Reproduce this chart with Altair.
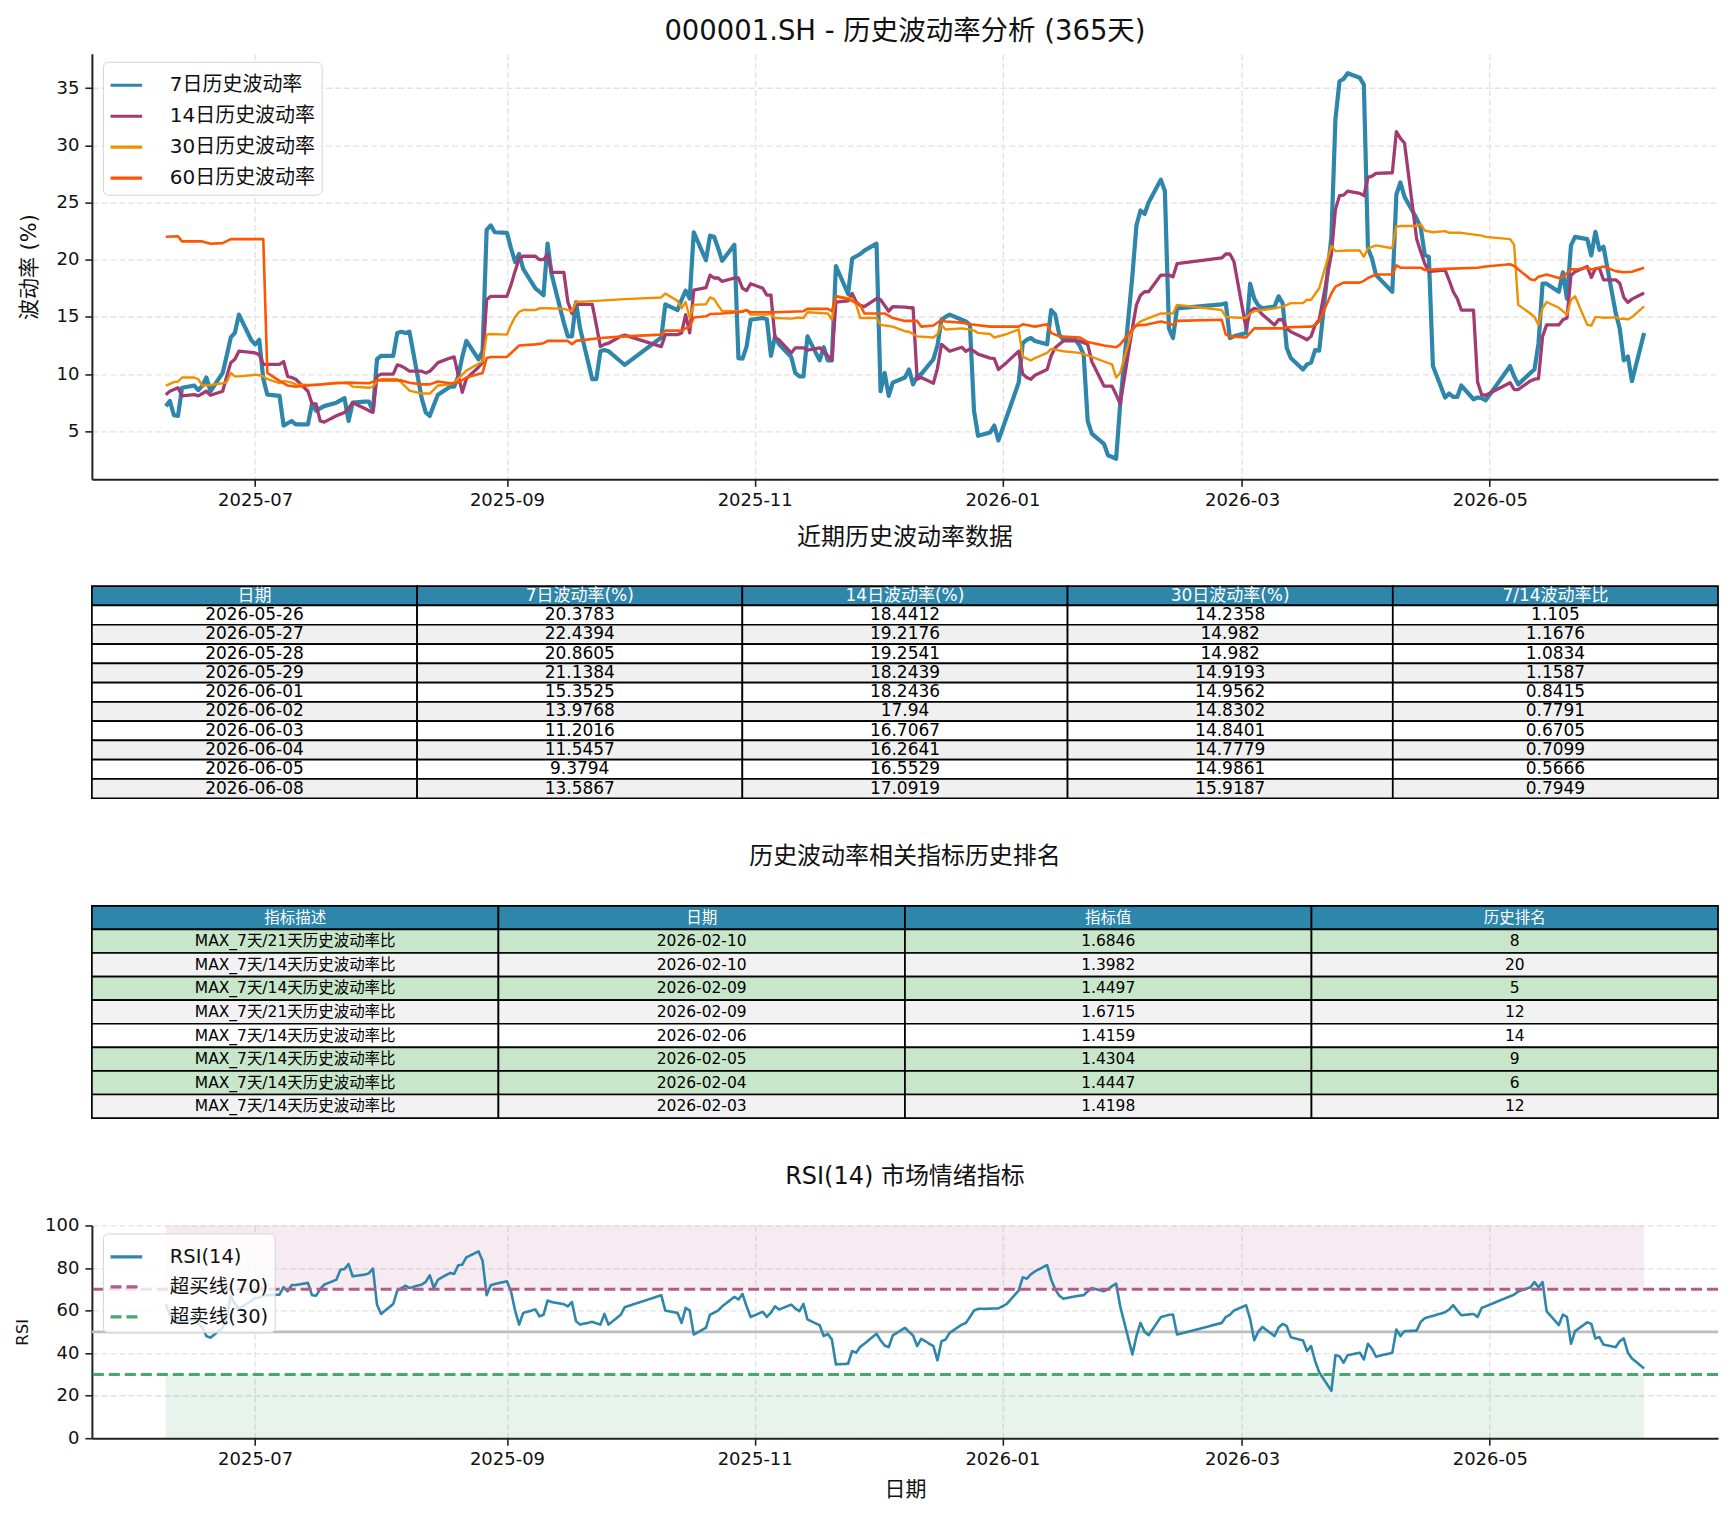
import altair as alt
import pandas as pd

FONT = "DejaVu Sans, Noto Sans CJK SC, sans-serif"
PANEL_W = 1628

# ---------------------------------------------------------------------------
# Historical volatility (%), keyed by trading date
# ---------------------------------------------------------------------------
VOL_7D = [
    ("2025-06-09", 7.2), ("2025-06-10", 7.65), ("2025-06-11", 6.4), ("2025-06-12", 6.35),
    ("2025-06-13", 8.8), ("2025-06-16", 9.0), ("2025-06-17", 8.6), ("2025-06-18", 9.0),
    ("2025-06-19", 9.7), ("2025-06-20", 8.5), ("2025-06-23", 10.1), ("2025-06-24", 11.6),
    ("2025-06-25", 13.2), ("2025-06-26", 13.6), ("2025-06-27", 15.2), ("2025-06-30", 13.0),
    ("2025-07-01", 12.6), ("2025-07-02", 13.0), ("2025-07-03", 9.6), ("2025-07-04", 8.2),
    ("2025-07-07", 8.1), ("2025-07-08", 5.5), ("2025-07-09", 5.7), ("2025-07-10", 5.9),
    ("2025-07-11", 5.6), ("2025-07-14", 5.6), ("2025-07-15", 7.4), ("2025-07-16", 6.8),
    ("2025-07-17", 7.0), ("2025-07-18", 7.2), ("2025-07-21", 7.5), ("2025-07-22", 7.7),
    ("2025-07-23", 7.9), ("2025-07-24", 5.9), ("2025-07-25", 7.5), ("2025-07-28", 7.6),
    ("2025-07-29", 7.6), ("2025-07-30", 6.8), ("2025-07-31", 11.3), ("2025-08-01", 11.6),
    ("2025-08-04", 11.6), ("2025-08-05", 13.6), ("2025-08-06", 13.7), ("2025-08-07", 13.6),
    ("2025-08-08", 13.7), ("2025-08-11", 7.9), ("2025-08-12", 6.65), ("2025-08-13", 6.35),
    ("2025-08-14", 7.3), ("2025-08-15", 8.2), ("2025-08-18", 8.9), ("2025-08-19", 8.9),
    ("2025-08-20", 9.8), ("2025-08-21", 11.5), ("2025-08-22", 12.9), ("2025-08-25", 11.3),
    ("2025-08-26", 12.0), ("2025-08-27", 22.6), ("2025-08-28", 23.0), ("2025-08-29", 22.4),
    ("2025-09-01", 22.35), ("2025-09-02", 21.0), ("2025-09-03", 19.8), ("2025-09-04", 20.5),
    ("2025-09-05", 19.2), ("2025-09-08", 17.5), ("2025-09-09", 17.2), ("2025-09-10", 16.9),
    ("2025-09-11", 21.4), ("2025-09-12", 18.7), ("2025-09-15", 14.5), ("2025-09-16", 13.3),
    ("2025-09-17", 13.3), ("2025-09-18", 16.3), ("2025-09-19", 14.0), ("2025-09-22", 9.55),
    ("2025-09-23", 9.55), ("2025-09-24", 12.0), ("2025-09-25", 12.1), ("2025-09-26", 12.0),
    ("2025-09-29", 11.1), ("2025-09-30", 10.8), ("2025-10-09", 13.2), ("2025-10-10", 16.1),
    ("2025-10-13", 15.6), ("2025-10-14", 16.5), ("2025-10-15", 17.3), ("2025-10-16", 16.6),
    ("2025-10-17", 22.4), ("2025-10-20", 19.95), ("2025-10-21", 22.1), ("2025-10-22", 22.0),
    ("2025-10-23", 21.0), ("2025-10-24", 19.9), ("2025-10-27", 21.3), ("2025-10-28", 11.4),
    ("2025-10-29", 11.35), ("2025-10-30", 12.4), ("2025-10-31", 14.75), ("2025-11-03", 14.9),
    ("2025-11-04", 14.8), ("2025-11-05", 11.6), ("2025-11-06", 13.3), ("2025-11-07", 12.6),
    ("2025-11-10", 11.5), ("2025-11-11", 10.1), ("2025-11-12", 9.8), ("2025-11-13", 9.8),
    ("2025-11-14", 13.3), ("2025-11-17", 11.2), ("2025-11-18", 12.35), ("2025-11-19", 11.2),
    ("2025-11-20", 11.2), ("2025-11-21", 19.45), ("2025-11-24", 17.0), ("2025-11-25", 20.1),
    ("2025-11-26", 20.3), ("2025-11-27", 20.5), ("2025-11-28", 20.8), ("2025-12-01", 21.4),
    ("2025-12-02", 8.5), ("2025-12-03", 10.1), ("2025-12-04", 8.1), ("2025-12-05", 9.25),
    ("2025-12-08", 9.7), ("2025-12-09", 10.4), ("2025-12-10", 9.1), ("2025-12-11", 9.8),
    ("2025-12-12", 10.0), ("2025-12-15", 11.3), ("2025-12-16", 12.5), ("2025-12-17", 14.75),
    ("2025-12-18", 15.0), ("2025-12-19", 15.2), ("2025-12-22", 14.75), ("2025-12-23", 14.6),
    ("2025-12-24", 14.3), ("2025-12-25", 6.8), ("2025-12-26", 4.6), ("2025-12-29", 4.9),
    ("2025-12-30", 5.5), ("2025-12-31", 4.2), ("2026-01-02", 6.2), ("2026-01-05", 9.25),
    ("2026-01-06", 12.7), ("2026-01-07", 13.0), ("2026-01-08", 13.15), ("2026-01-09", 12.9),
    ("2026-01-12", 12.6), ("2026-01-13", 15.6), ("2026-01-14", 15.2), ("2026-01-15", 13.45),
    ("2026-01-16", 13.0), ("2026-01-19", 13.0), ("2026-01-20", 12.5), ("2026-01-21", 11.7),
    ("2026-01-22", 5.9), ("2026-01-23", 4.8), ("2026-01-26", 3.9), ("2026-01-27", 2.9),
    ("2026-01-28", 2.75), ("2026-01-29", 2.6), ("2026-01-30", 7.4), ("2026-02-02", 18.6),
    ("2026-02-03", 23.0), ("2026-02-04", 24.3), ("2026-02-05", 24.0), ("2026-02-06", 25.0),
    ("2026-02-09", 27.0), ("2026-02-10", 26.0), ("2026-02-11", 14.0), ("2026-02-12", 13.15),
    ("2026-02-13", 15.75), ("2026-02-24", 16.1), ("2026-02-25", 16.2), ("2026-02-26", 13.15),
    ("2026-02-27", 13.3), ("2026-03-02", 13.6), ("2026-03-03", 17.9), ("2026-03-04", 16.6),
    ("2026-03-05", 16.0), ("2026-03-06", 15.75), ("2026-03-09", 15.9), ("2026-03-10", 16.8),
    ("2026-03-11", 16.2), ("2026-03-12", 12.3), ("2026-03-13", 11.4), ("2026-03-16", 10.4),
    ("2026-03-17", 10.85), ("2026-03-18", 11.0), ("2026-03-19", 12.1), ("2026-03-20", 12.05),
    ("2026-03-23", 22.0), ("2026-03-24", 32.3), ("2026-03-25", 35.6), ("2026-03-26", 35.8),
    ("2026-03-27", 36.3), ("2026-03-30", 35.9), ("2026-03-31", 35.3), ("2026-04-01", 21.0),
    ("2026-04-02", 20.1), ("2026-04-03", 18.65), ("2026-04-07", 17.2), ("2026-04-08", 25.7),
    ("2026-04-09", 26.75), ("2026-04-10", 25.5), ("2026-04-13", 23.6), ("2026-04-14", 22.8),
    ("2026-04-15", 20.4), ("2026-04-16", 20.25), ("2026-04-17", 10.7), ("2026-04-20", 7.95),
    ("2026-04-21", 8.3), ("2026-04-22", 8.0), ("2026-04-23", 8.0), ("2026-04-24", 9.0),
    ("2026-04-27", 7.8), ("2026-04-28", 7.95), ("2026-04-29", 7.9), ("2026-04-30", 7.7),
    ("2026-05-06", 10.7), ("2026-05-07", 9.8), ("2026-05-08", 9.1), ("2026-05-11", 10.1),
    ("2026-05-12", 10.4), ("2026-05-13", 12.7), ("2026-05-14", 17.9), ("2026-05-15", 17.9),
    ("2026-05-18", 17.2), ("2026-05-19", 18.9), ("2026-05-20", 16.6), ("2026-05-21", 21.25),
    ("2026-05-22", 22.0), ("2026-05-25", 21.8), ("2026-05-26", 20.3783), ("2026-05-27", 22.4394),
    ("2026-05-28", 20.8605), ("2026-05-29", 21.1384), ("2026-06-01", 15.3525), ("2026-06-02", 13.9768),
    ("2026-06-03", 11.2016), ("2026-06-04", 11.5457), ("2026-06-05", 9.3794), ("2026-06-08", 13.5867),
]

VOL_14D = [
    ("2025-06-09", 8.2), ("2025-06-10", 8.5), ("2025-06-11", 8.65), ("2025-06-12", 8.8),
    ("2025-06-13", 8.1), ("2025-06-16", 8.2), ("2025-06-17", 8.1), ("2025-06-18", 8.3),
    ("2025-06-19", 8.5), ("2025-06-20", 8.15), ("2025-06-23", 8.5), ("2025-06-24", 9.8),
    ("2025-06-25", 11.0), ("2025-06-26", 11.3), ("2025-06-27", 12.0), ("2025-06-30", 11.9),
    ("2025-07-01", 11.85), ("2025-07-02", 11.7), ("2025-07-03", 10.85), ("2025-07-04", 10.85),
    ("2025-07-07", 10.85), ("2025-07-08", 11.1), ("2025-07-09", 9.8), ("2025-07-10", 9.7),
    ("2025-07-11", 9.55), ("2025-07-14", 8.5), ("2025-07-15", 7.4), ("2025-07-16", 7.4),
    ("2025-07-17", 5.9), ("2025-07-18", 5.8), ("2025-07-21", 6.35), ("2025-07-22", 6.5),
    ("2025-07-23", 6.65), ("2025-07-24", 7.0), ("2025-07-25", 7.5), ("2025-07-28", 7.0),
    ("2025-07-29", 6.8), ("2025-07-30", 6.65), ("2025-07-31", 9.8), ("2025-08-01", 10.0),
    ("2025-08-04", 10.0), ("2025-08-05", 10.8), ("2025-08-06", 10.7), ("2025-08-07", 10.5),
    ("2025-08-08", 10.25), ("2025-08-11", 10.25), ("2025-08-12", 10.1), ("2025-08-13", 10.25),
    ("2025-08-14", 10.6), ("2025-08-15", 11.0), ("2025-08-18", 11.4), ("2025-08-19", 11.5),
    ("2025-08-20", 9.9), ("2025-08-21", 8.4), ("2025-08-22", 9.6), ("2025-08-25", 10.6),
    ("2025-08-26", 11.0), ("2025-08-27", 16.5), ("2025-08-28", 16.8), ("2025-08-29", 16.8),
    ("2025-09-01", 16.8), ("2025-09-02", 17.8), ("2025-09-03", 19.0), ("2025-09-04", 20.1),
    ("2025-09-05", 20.3), ("2025-09-08", 20.3), ("2025-09-09", 20.0), ("2025-09-10", 20.0),
    ("2025-09-11", 20.45), ("2025-09-12", 18.9), ("2025-09-15", 18.9), ("2025-09-16", 16.3),
    ("2025-09-17", 15.3), ("2025-09-18", 16.2), ("2025-09-19", 16.1), ("2025-09-22", 16.1),
    ("2025-09-23", 14.3), ("2025-09-24", 12.4), ("2025-09-25", 12.6), ("2025-09-26", 12.7),
    ("2025-09-29", 13.3), ("2025-09-30", 13.4), ("2025-10-09", 12.4), ("2025-10-10", 13.45),
    ("2025-10-13", 13.45), ("2025-10-14", 13.6), ("2025-10-15", 15.2), ("2025-10-16", 13.6),
    ("2025-10-17", 17.35), ("2025-10-20", 17.55), ("2025-10-21", 18.65), ("2025-10-22", 18.4),
    ("2025-10-23", 18.4), ("2025-10-24", 18.1), ("2025-10-27", 18.4), ("2025-10-28", 18.4),
    ("2025-10-29", 17.5), ("2025-10-30", 17.3), ("2025-10-31", 17.9), ("2025-11-03", 17.5),
    ("2025-11-04", 16.9), ("2025-11-05", 16.9), ("2025-11-06", 13.15), ("2025-11-07", 13.0),
    ("2025-11-10", 11.85), ("2025-11-11", 12.3), ("2025-11-12", 12.3), ("2025-11-13", 12.3),
    ("2025-11-14", 12.1), ("2025-11-17", 12.3), ("2025-11-18", 12.0), ("2025-11-19", 11.6),
    ("2025-11-20", 11.2), ("2025-11-21", 16.3), ("2025-11-24", 16.4), ("2025-11-25", 17.05),
    ("2025-11-26", 16.3), ("2025-11-27", 16.0), ("2025-11-28", 15.9), ("2025-12-01", 16.6),
    ("2025-12-02", 16.5), ("2025-12-03", 16.0), ("2025-12-04", 15.5), ("2025-12-05", 15.9),
    ("2025-12-08", 15.85), ("2025-12-09", 15.8), ("2025-12-10", 15.8), ("2025-12-11", 9.55),
    ("2025-12-12", 9.7), ("2025-12-15", 9.2), ("2025-12-16", 10.5), ("2025-12-17", 12.6),
    ("2025-12-18", 12.3), ("2025-12-19", 12.0), ("2025-12-22", 12.35), ("2025-12-23", 12.0),
    ("2025-12-24", 12.2), ("2025-12-25", 12.0), ("2025-12-26", 11.75), ("2025-12-29", 11.4),
    ("2025-12-30", 11.35), ("2025-12-31", 10.4), ("2026-01-02", 11.0), ("2026-01-05", 12.0),
    ("2026-01-06", 10.0), ("2026-01-07", 9.7), ("2026-01-08", 9.55), ("2026-01-09", 9.9),
    ("2026-01-12", 10.4), ("2026-01-13", 11.6), ("2026-01-14", 12.3), ("2026-01-15", 12.6),
    ("2026-01-16", 12.9), ("2026-01-19", 12.9), ("2026-01-20", 12.9), ("2026-01-21", 12.75),
    ("2026-01-22", 12.6), ("2026-01-23", 11.1), ("2026-01-26", 8.95), ("2026-01-27", 8.95),
    ("2026-01-28", 8.95), ("2026-01-29", 8.2), ("2026-01-30", 7.4), ("2026-02-02", 14.0),
    ("2026-02-03", 16.05), ("2026-02-04", 16.9), ("2026-02-05", 17.2), ("2026-02-06", 17.2),
    ("2026-02-09", 18.65), ("2026-02-10", 18.65), ("2026-02-11", 18.65), ("2026-02-12", 18.5),
    ("2026-02-13", 19.65), ("2026-02-24", 20.15), ("2026-02-25", 20.5), ("2026-02-26", 20.5),
    ("2026-02-27", 19.85), ("2026-03-02", 14.0), ("2026-03-03", 15.5), ("2026-03-04", 15.75),
    ("2026-03-05", 15.6), ("2026-03-06", 15.2), ("2026-03-09", 14.3), ("2026-03-10", 14.75),
    ("2026-03-11", 14.75), ("2026-03-12", 14.0), ("2026-03-13", 13.7), ("2026-03-16", 13.2),
    ("2026-03-17", 13.0), ("2026-03-18", 13.3), ("2026-03-19", 14.3), ("2026-03-20", 14.75),
    ("2026-03-23", 20.5), ("2026-03-24", 24.4), ("2026-03-25", 25.6), ("2026-03-26", 25.65),
    ("2026-03-27", 26.0), ("2026-03-30", 25.8), ("2026-03-31", 25.6), ("2026-04-01", 27.2),
    ("2026-04-02", 27.3), ("2026-04-03", 27.55), ("2026-04-07", 27.6), ("2026-04-08", 31.2),
    ("2026-04-09", 30.6), ("2026-04-10", 30.2), ("2026-04-13", 21.8), ("2026-04-14", 20.7),
    ("2026-04-15", 19.65), ("2026-04-16", 18.95), ("2026-04-17", 19.0), ("2026-04-20", 19.1),
    ("2026-04-21", 18.2), ("2026-04-22", 17.2), ("2026-04-23", 16.6), ("2026-04-24", 15.6),
    ("2026-04-27", 15.6), ("2026-04-28", 9.3), ("2026-04-29", 8.2), ("2026-04-30", 8.15),
    ("2026-05-06", 9.25), ("2026-05-07", 8.65), ("2026-05-08", 8.65), ("2026-05-11", 9.4),
    ("2026-05-12", 9.55), ("2026-05-13", 9.6), ("2026-05-14", 13.3), ("2026-05-15", 14.3),
    ("2026-05-18", 14.3), ("2026-05-19", 14.75), ("2026-05-20", 14.9), ("2026-05-21", 18.65),
    ("2026-05-22", 18.95), ("2026-05-25", 19.4), ("2026-05-26", 18.4412), ("2026-05-27", 19.2176),
    ("2026-05-28", 19.2541), ("2026-05-29", 18.2439), ("2026-06-01", 18.2436), ("2026-06-02", 17.94),
    ("2026-06-03", 16.7067), ("2026-06-04", 16.2641), ("2026-06-05", 16.5529), ("2026-06-08", 17.0919),
]

VOL_30D = [
    ("2025-06-09", 9.0), ("2025-06-11", 9.3), ("2025-06-12", 9.35), ("2025-06-13", 9.7),
    ("2025-06-16", 9.7), ("2025-06-17", 9.55), ("2025-06-18", 9.0), ("2025-06-20", 9.05),
    ("2025-06-23", 9.2), ("2025-06-24", 9.3), ("2025-06-25", 10.1), ("2025-06-26", 9.8),
    ("2025-06-27", 9.8), ("2025-06-30", 9.9), ("2025-07-01", 9.95), ("2025-07-02", 9.9),
    ("2025-07-03", 9.8), ("2025-07-04", 9.55), ("2025-07-07", 9.2), ("2025-07-08", 9.4),
    ("2025-07-10", 9.25), ("2025-07-11", 9.1), ("2025-07-14", 9.05), ("2025-07-17", 9.1),
    ("2025-07-21", 9.25), ("2025-07-24", 9.2), ("2025-07-25", 8.9), ("2025-07-29", 8.8),
    ("2025-07-30", 8.9), ("2025-07-31", 9.4), ("2025-08-01", 9.55), ("2025-08-05", 9.55),
    ("2025-08-06", 9.25), ("2025-08-08", 8.55), ("2025-08-11", 8.3), ("2025-08-13", 8.3),
    ("2025-08-14", 8.65), ("2025-08-15", 9.0), ("2025-08-18", 9.1), ("2025-08-19", 9.25),
    ("2025-08-21", 9.95), ("2025-08-22", 10.3), ("2025-08-25", 10.9), ("2025-08-26", 11.1),
    ("2025-08-27", 13.45), ("2025-08-28", 13.5), ("2025-09-01", 13.45), ("2025-09-02", 14.3),
    ("2025-09-03", 15.0), ("2025-09-04", 15.45), ("2025-09-05", 15.6), ("2025-09-08", 15.6),
    ("2025-09-09", 15.75), ("2025-09-11", 15.75), ("2025-09-15", 15.7), ("2025-09-17", 15.5),
    ("2025-09-18", 16.3), ("2025-09-23", 16.4), ("2025-09-30", 16.55), ("2025-10-09", 16.7),
    ("2025-10-10", 17.05), ("2025-10-13", 16.4), ("2025-10-14", 15.75), ("2025-10-15", 16.3),
    ("2025-10-16", 14.9), ("2025-10-17", 16.05), ("2025-10-20", 16.1), ("2025-10-21", 16.7),
    ("2025-10-22", 16.55), ("2025-10-23", 16.0), ("2025-10-24", 15.5), ("2025-10-29", 15.5),
    ("2025-10-30", 15.6), ("2025-10-31", 15.2), ("2025-11-04", 15.2), ("2025-11-05", 15.25),
    ("2025-11-06", 14.9), ("2025-11-10", 14.85), ("2025-11-12", 14.95), ("2025-11-13", 14.9),
    ("2025-11-14", 15.4), ("2025-11-19", 15.3), ("2025-11-20", 14.75), ("2025-11-21", 16.8),
    ("2025-11-25", 16.6), ("2025-11-26", 16.05), ("2025-11-27", 14.9), ("2025-12-01", 14.9),
    ("2025-12-02", 14.3), ("2025-12-04", 14.2), ("2025-12-05", 14.15), ("2025-12-08", 13.75),
    ("2025-12-09", 13.7), ("2025-12-11", 13.3), ("2025-12-15", 13.2), ("2025-12-16", 13.5),
    ("2025-12-17", 14.3), ("2025-12-18", 13.9), ("2025-12-22", 14.0), ("2025-12-24", 13.9),
    ("2025-12-25", 13.8), ("2025-12-26", 13.6), ("2025-12-29", 13.5), ("2025-12-30", 13.2),
    ("2026-01-02", 13.5), ("2026-01-05", 13.9), ("2026-01-06", 11.5), ("2026-01-08", 11.2),
    ("2026-01-09", 11.4), ("2026-01-12", 11.85), ("2026-01-13", 12.2), ("2026-01-16", 12.0),
    ("2026-01-20", 11.85), ("2026-01-23", 11.5), ("2026-01-26", 11.1), ("2026-01-28", 10.85),
    ("2026-01-29", 9.7), ("2026-01-30", 10.1), ("2026-02-02", 13.9), ("2026-02-03", 14.3),
    ("2026-02-04", 14.6), ("2026-02-05", 14.75), ("2026-02-06", 14.9), ("2026-02-09", 15.3),
    ("2026-02-12", 15.3), ("2026-02-13", 16.05), ("2026-02-24", 15.6), ("2026-02-25", 15.0),
    ("2026-02-27", 14.95), ("2026-03-02", 14.9), ("2026-03-03", 15.3), ("2026-03-04", 15.5),
    ("2026-03-09", 15.75), ("2026-03-11", 15.9), ("2026-03-13", 16.2), ("2026-03-16", 16.2),
    ("2026-03-17", 16.5), ("2026-03-18", 16.5), ("2026-03-19", 17.0), ("2026-03-20", 17.5),
    ("2026-03-23", 21.2), ("2026-03-24", 20.75), ("2026-03-27", 20.8), ("2026-03-30", 20.8),
    ("2026-03-31", 20.25), ("2026-04-01", 21.0), ("2026-04-03", 21.25), ("2026-04-07", 21.0),
    ("2026-04-08", 22.9), ("2026-04-09", 22.95), ("2026-04-13", 22.95), ("2026-04-14", 23.1),
    ("2026-04-15", 22.55), ("2026-04-17", 22.4), ("2026-04-20", 22.5), ("2026-04-21", 22.35),
    ("2026-04-24", 22.35), ("2026-04-29", 22.1), ("2026-04-30", 22.0), ("2026-05-06", 21.8),
    ("2026-05-07", 21.3), ("2026-05-08", 16.05), ("2026-05-11", 15.3), ("2026-05-12", 15.0),
    ("2026-05-13", 14.3), ("2026-05-14", 15.75), ("2026-05-15", 16.3), ("2026-05-18", 15.8),
    ("2026-05-19", 15.5), ("2026-05-20", 15.2), ("2026-05-21", 16.5), ("2026-05-22", 16.8),
    ("2026-05-25", 14.3), ("2026-05-26", 14.2358), ("2026-05-27", 14.982), ("2026-05-28", 14.982),
    ("2026-05-29", 14.9193), ("2026-06-01", 14.9562), ("2026-06-02", 14.8302), ("2026-06-03", 14.8401),
    ("2026-06-04", 14.7779), ("2026-06-05", 14.9861), ("2026-06-08", 15.9187),
]

VOL_60D = [
    ("2025-06-09", 22.0), ("2025-06-12", 22.05), ("2025-06-13", 21.6), ("2025-06-18", 21.6),
    ("2025-06-20", 21.4), ("2025-06-23", 21.45), ("2025-06-25", 21.8), ("2025-07-03", 21.8),
    ("2025-07-04", 10.1), ("2025-07-07", 9.4), ("2025-07-09", 9.0), ("2025-07-11", 8.9),
    ("2025-07-14", 9.0), ("2025-07-21", 9.2), ("2025-07-24", 9.25), ("2025-07-29", 9.2),
    ("2025-07-31", 9.45), ("2025-08-06", 9.45), ("2025-08-08", 9.25), ("2025-08-11", 9.1),
    ("2025-08-13", 9.1), ("2025-08-15", 9.35), ("2025-08-18", 9.2), ("2025-08-20", 9.25),
    ("2025-08-22", 9.7), ("2025-08-26", 10.1), ("2025-08-27", 11.4), ("2025-08-28", 11.5),
    ("2025-09-01", 11.5), ("2025-09-04", 12.5), ("2025-09-08", 12.6), ("2025-09-10", 12.7),
    ("2025-09-11", 12.9), ("2025-09-16", 12.9), ("2025-09-17", 12.6), ("2025-09-18", 12.9),
    ("2025-09-24", 13.15), ("2025-09-30", 13.3), ("2025-10-09", 13.45), ("2025-10-10", 13.8),
    ("2025-10-14", 13.8), ("2025-10-15", 14.0), ("2025-10-16", 14.15), ("2025-10-17", 14.95),
    ("2025-10-20", 15.05), ("2025-10-21", 15.25), ("2025-10-24", 15.3), ("2025-10-29", 15.45),
    ("2025-10-30", 15.6), ("2025-10-31", 15.4), ("2025-11-06", 15.4), ("2025-11-13", 15.5),
    ("2025-11-14", 15.7), ("2025-11-19", 15.7), ("2025-11-20", 15.5), ("2025-11-21", 16.8),
    ("2025-11-24", 16.55), ("2025-11-27", 16.05), ("2025-11-28", 15.3), ("2025-12-03", 15.3),
    ("2025-12-05", 14.9), ("2025-12-08", 14.65), ("2025-12-11", 14.65), ("2025-12-12", 14.15),
    ("2025-12-15", 14.25), ("2025-12-17", 14.75), ("2025-12-18", 14.6), ("2025-12-22", 14.5),
    ("2025-12-24", 14.35), ("2025-12-29", 14.15), ("2026-01-05", 14.15), ("2026-01-06", 14.35),
    ("2026-01-09", 14.15), ("2026-01-12", 14.35), ("2026-01-13", 13.6), ("2026-01-15", 13.3),
    ("2026-01-20", 13.2), ("2026-01-22", 12.8), ("2026-01-26", 12.5), ("2026-01-29", 12.35),
    ("2026-01-30", 12.6), ("2026-02-02", 13.9), ("2026-02-03", 14.25), ("2026-02-05", 14.3),
    ("2026-02-09", 14.6), ("2026-02-11", 14.45), ("2026-02-12", 14.3), ("2026-02-13", 14.65),
    ("2026-02-24", 14.75), ("2026-02-25", 13.45), ("2026-02-26", 13.3), ("2026-03-02", 13.2),
    ("2026-03-04", 14.0), ("2026-03-11", 14.0), ("2026-03-12", 14.1), ("2026-03-18", 14.15),
    ("2026-03-19", 14.3), ("2026-03-20", 14.6), ("2026-03-23", 17.05), ("2026-03-24", 17.65),
    ("2026-03-26", 18.0), ("2026-03-30", 18.0), ("2026-03-31", 18.15), ("2026-04-01", 18.4),
    ("2026-04-03", 18.7), ("2026-04-07", 18.7), ("2026-04-08", 19.5), ("2026-04-09", 19.3),
    ("2026-04-14", 19.3), ("2026-04-15", 19.1), ("2026-04-20", 19.2), ("2026-04-28", 19.3),
    ("2026-04-30", 19.4), ("2026-05-06", 19.6), ("2026-05-07", 19.45), ("2026-05-11", 18.3),
    ("2026-05-12", 18.2), ("2026-05-13", 18.5), ("2026-05-15", 18.7), ("2026-05-18", 18.4),
    ("2026-05-19", 18.5), ("2026-05-21", 19.15), ("2026-05-22", 19.15), ("2026-05-25", 19.3),
    ("2026-05-26", 19.15), ("2026-05-28", 19.3), ("2026-05-29", 19.4), ("2026-06-01", 19.0),
    ("2026-06-03", 18.9), ("2026-06-05", 18.95), ("2026-06-08", 19.3),
]

# RSI(14), keyed by trading date
RSI_14 = [
    ("2025-06-09", 63), ("2025-06-10", 58), ("2025-06-11", 57), ("2025-06-12", 55),
    ("2025-06-13", 55), ("2025-06-16", 56), ("2025-06-17", 54), ("2025-06-18", 52),
    ("2025-06-19", 48), ("2025-06-20", 47.2), ("2025-06-23", 52), ("2025-06-24", 57),
    ("2025-06-25", 67), ("2025-06-26", 63), ("2025-06-27", 61), ("2025-06-30", 64.4),
    ("2025-07-01", 66), ("2025-07-02", 66), ("2025-07-03", 67), ("2025-07-04", 67.2),
    ("2025-07-07", 67.5), ("2025-07-08", 71), ("2025-07-09", 69), ("2025-07-10", 72),
    ("2025-07-11", 72), ("2025-07-14", 73), ("2025-07-15", 67.2), ("2025-07-16", 67),
    ("2025-07-17", 70), ("2025-07-18", 72.2), ("2025-07-21", 74.5), ("2025-07-22", 79.2),
    ("2025-07-23", 79.5), ("2025-07-24", 81.9), ("2025-07-25", 76.1), ("2025-07-28", 76.9),
    ("2025-07-29", 77.5), ("2025-07-30", 79.7), ("2025-07-31", 62.8), ("2025-08-01", 58.4),
    ("2025-08-04", 63.1), ("2025-08-05", 69.4), ("2025-08-06", 70.5), ("2025-08-07", 71.7),
    ("2025-08-08", 70.6), ("2025-08-11", 72.2), ("2025-08-12", 73.5), ("2025-08-13", 76.6),
    ("2025-08-14", 70.6), ("2025-08-15", 74.5), ("2025-08-18", 77.7), ("2025-08-19", 77.2),
    ("2025-08-20", 81.25), ("2025-08-21", 81.6), ("2025-08-22", 85), ("2025-08-25", 87.8),
    ("2025-08-26", 83.4), ("2025-08-27", 67.2), ("2025-08-28", 71.9), ("2025-08-29", 72.5),
    ("2025-09-01", 73.75), ("2025-09-02", 69), ("2025-09-03", 60), ("2025-09-04", 53.4),
    ("2025-09-05", 58.9), ("2025-09-08", 60.5), ("2025-09-09", 57.3), ("2025-09-10", 58),
    ("2025-09-11", 64.7), ("2025-09-12", 64), ("2025-09-15", 63), ("2025-09-16", 62),
    ("2025-09-17", 64), ("2025-09-18", 55), ("2025-09-19", 53.4), ("2025-09-22", 54.7),
    ("2025-09-23", 54), ("2025-09-24", 53.4), ("2025-09-25", 58.4), ("2025-09-26", 53.4),
    ("2025-09-29", 58), ("2025-09-30", 61.6), ("2025-10-09", 67.2), ("2025-10-10", 60),
    ("2025-10-13", 58.9), ("2025-10-14", 54.2), ("2025-10-15", 61.25), ("2025-10-16", 60),
    ("2025-10-17", 48.75), ("2025-10-20", 51.9), ("2025-10-21", 58.1), ("2025-10-22", 59),
    ("2025-10-23", 60), ("2025-10-24", 62), ("2025-10-27", 66.4), ("2025-10-28", 65.2),
    ("2025-10-29", 67.8), ("2025-10-30", 62), ("2025-10-31", 57), ("2025-11-03", 59.4),
    ("2025-11-04", 57), ("2025-11-05", 59), ("2025-11-06", 62), ("2025-11-07", 60.5),
    ("2025-11-10", 62.8), ("2025-11-11", 61), ("2025-11-12", 59.7), ("2025-11-13", 63.1),
    ("2025-11-14", 55.8), ("2025-11-17", 53.1), ("2025-11-18", 48), ("2025-11-19", 49),
    ("2025-11-20", 46.4), ("2025-11-21", 34.7), ("2025-11-24", 35), ("2025-11-25", 41),
    ("2025-11-26", 40.2), ("2025-11-27", 43), ("2025-11-28", 44.4), ("2025-12-01", 49.1),
    ("2025-12-02", 46), ("2025-12-03", 43.6), ("2025-12-04", 42.8), ("2025-12-05", 48.3),
    ("2025-12-08", 51.9), ("2025-12-09", 50), ("2025-12-10", 48.3), ("2025-12-11", 43.3),
    ("2025-12-12", 46.7), ("2025-12-15", 43.3), ("2025-12-16", 36.6), ("2025-12-17", 45.6),
    ("2025-12-18", 46.4), ("2025-12-19", 49.5), ("2025-12-22", 53.4), ("2025-12-23", 54.2),
    ("2025-12-24", 57), ("2025-12-25", 60), ("2025-12-26", 60.8), ("2025-12-29", 60.9),
    ("2025-12-30", 61), ("2025-12-31", 61), ("2026-01-02", 63), ("2026-01-05", 69.4),
    ("2026-01-06", 75.6), ("2026-01-07", 75), ("2026-01-08", 77), ("2026-01-09", 78.4),
    ("2026-01-12", 81.4), ("2026-01-13", 74.5), ("2026-01-14", 70), ("2026-01-15", 67),
    ("2026-01-16", 65.6), ("2026-01-19", 66.7), ("2026-01-20", 67), ("2026-01-21", 67.2),
    ("2026-01-22", 69), ("2026-01-23", 70.6), ("2026-01-26", 69.1), ("2026-01-27", 70),
    ("2026-01-28", 71.5), ("2026-01-29", 72.7), ("2026-01-30", 62), ("2026-02-02", 39.4),
    ("2026-02-03", 48), ("2026-02-04", 54.2), ("2026-02-05", 50), ("2026-02-06", 48.4),
    ("2026-02-09", 56.9), ("2026-02-10", 57.5), ("2026-02-11", 58), ("2026-02-12", 58.1),
    ("2026-02-13", 48.75), ("2026-02-24", 54.2), ("2026-02-25", 57), ("2026-02-26", 58),
    ("2026-02-27", 60), ("2026-03-02", 62.5), ("2026-03-03", 56), ("2026-03-04", 46.1),
    ("2026-03-05", 50), ("2026-03-06", 52.3), ("2026-03-09", 48), ("2026-03-10", 52),
    ("2026-03-11", 53.75), ("2026-03-12", 52.7), ("2026-03-13", 47.5), ("2026-03-16", 46),
    ("2026-03-17", 41), ("2026-03-18", 43.3), ("2026-03-19", 36.25), ("2026-03-20", 31),
    ("2026-03-23", 22.3), ("2026-03-24", 39), ("2026-03-25", 38.5), ("2026-03-26", 35.5),
    ("2026-03-27", 39), ("2026-03-30", 40.2), ("2026-03-31", 37), ("2026-04-01", 44.4),
    ("2026-04-02", 42), ("2026-04-03", 38.3), ("2026-04-07", 40.2), ("2026-04-08", 51.1),
    ("2026-04-09", 48), ("2026-04-10", 50.3), ("2026-04-13", 50.6), ("2026-04-14", 54.7),
    ("2026-04-15", 56.4), ("2026-04-16", 57), ("2026-04-17", 57.5), ("2026-04-20", 59.2),
    ("2026-04-21", 60.5), ("2026-04-22", 62.5), ("2026-04-23", 60), ("2026-04-24", 57.8),
    ("2026-04-27", 58.4), ("2026-04-28", 57), ("2026-04-29", 61.25), ("2026-04-30", 62),
    ("2026-05-06", 66.7), ("2026-05-07", 67.5), ("2026-05-08", 69), ("2026-05-11", 70.9),
    ("2026-05-12", 73.4), ("2026-05-13", 70.9), ("2026-05-14", 73.4), ("2026-05-15", 59.7),
    ("2026-05-18", 53.2), ("2026-05-19", 58.1), ("2026-05-20", 57), ("2026-05-21", 44.4),
    ("2026-05-22", 50.3), ("2026-05-25", 54.5), ("2026-05-26", 53.75), ("2026-05-27", 46.9),
    ("2026-05-28", 47.5), ("2026-05-29", 44), ("2026-06-01", 42.8), ("2026-06-02", 45.6),
    ("2026-06-03", 46.9), ("2026-06-04", 40.2), ("2026-06-05", 37.5), ("2026-06-08", 32.8),
]

# ---------------------------------------------------------------------------
# Table: latest volatility readings
# ---------------------------------------------------------------------------
RECENT_COLUMNS = ["日期", "7日波动率(%)", "14日波动率(%)", "30日波动率(%)", "7/14波动率比"]
RECENT_DATES = ["2026-05-26", "2026-05-27", "2026-05-28", "2026-05-29", "2026-06-01",
                "2026-06-02", "2026-06-03", "2026-06-04", "2026-06-05", "2026-06-08"]
RECENT_VOL7 = [20.3783, 22.4394, 20.8605, 21.1384, 15.3525, 13.9768, 11.2016, 11.5457, 9.3794, 13.5867]
RECENT_VOL14 = [18.4412, 19.2176, 19.2541, 18.2439, 18.2436, 17.94, 16.7067, 16.2641, 16.5529, 17.0919]
RECENT_VOL30 = [14.2358, 14.982, 14.982, 14.9193, 14.9562, 14.8302, 14.8401, 14.7779, 14.9861, 15.9187]
RECENT_RATIO = [1.105, 1.1676, 1.0834, 1.1587, 0.8415, 0.7791, 0.6705, 0.7099, 0.5666, 0.7949]

# ---------------------------------------------------------------------------
# Table: indicator ranking history
# ---------------------------------------------------------------------------
RANK_COLUMNS = ["指标描述", "日期", "指标值", "历史排名"]
RANK_NAMES = ["MAX_7天/21天历史波动率比", "MAX_7天/14天历史波动率比", "MAX_7天/14天历史波动率比",
              "MAX_7天/21天历史波动率比", "MAX_7天/14天历史波动率比", "MAX_7天/14天历史波动率比",
              "MAX_7天/14天历史波动率比", "MAX_7天/14天历史波动率比"]
RANK_DATES = ["2026-02-10", "2026-02-10", "2026-02-09", "2026-02-09",
              "2026-02-06", "2026-02-05", "2026-02-04", "2026-02-03"]
RANK_VALUES = [1.6846, 1.3982, 1.4497, 1.6715, 1.4159, 1.4304, 1.4447, 1.4198]
RANK_POSITIONS = [8, 20, 5, 12, 14, 9, 6, 12]

# ---------------------------------------------------------------------------
# Styling
# ---------------------------------------------------------------------------
VOL_NAMES = ["7日历史波动率", "14日历史波动率", "30日历史波动率", "60日历史波动率"]
VOL_COLORS = ["#2E86AB", "#A23B72", "#F18F01", "#FF5500"]
VOL_WIDTHS = [4.2, 3.3, 2.4, 2.6]
RSI_NAMES = ["RSI(14)", "超买线(70)", "超卖线(30)"]
RSI_COLORS = ["#2E86AB", "#B45A8C", "#48A86C"]
HEADER_FILL = "#2E86AB"
AXIS_INK = "#222222"
GRID = dict(grid=True, gridColor="#E2E2E2", gridDash=[6, 3], gridWidth=1.3)

X_DOMAIN = [alt.DateTime(year=2025, month=5, date=21, hours=19, minutes=12),
            alt.DateTime(year=2026, month=6, date=26, hours=4, minutes=48)]
MONTH_TICKS = [alt.DateTime(year=y, month=m, date=1)
               for y, m in [(2025, 7), (2025, 9), (2025, 11), (2026, 1), (2026, 3), (2026, 5)]]


def date_axis(title=None):
    return alt.Axis(values=MONTH_TICKS, format="%Y-%m", title=title, labelFontSize=18,
                    labelColor="#111", labelPadding=5, labelOverlap=False, labelFlush=False,
                    tickSize=7, tickWidth=1.6, tickColor=AXIS_INK, domainColor=AXIS_INK,
                    domainWidth=2, titleFontSize=21, titleFontWeight="normal",
                    titleColor="#111", titlePadding=10, **GRID)


def value_axis(values, title, title_size, title_x):
    return alt.Axis(values=values, title=title, labelFontSize=18, labelColor="#111",
                    labelPadding=6, tickSize=7, tickWidth=1.6, tickColor=AXIS_INK,
                    domainColor=AXIS_INK, domainWidth=2, titleFontSize=title_size,
                    titleFontWeight="normal", titleColor="#111", titleX=title_x,
                    titleBaseline="middle", **GRID)


def line_legend(y_offset, label_size):
    return alt.Legend(
        title=None, orient="none", legendX=11, legendY=y_offset, symbolType="stroke",
        symbolSize=1000, symbolStrokeWidth=3.2, labelFontSize=label_size, labelColor="#111",
        labelOffset=26, rowPadding=3, padding=6, fillColor="rgba(255,255,255,0.8)",
        strokeColor="#D4D4D4", cornerRadius=5,
    )


x_scale = alt.Scale(domain=X_DOMAIN)

# ---------------------------------------------------------------------------
# Panel 1: volatility lines
# ---------------------------------------------------------------------------
vol_legend = line_legend(8, 20)
vol_y = alt.Scale(domain=[0.8, 38], nice=False, zero=False)
vol_layers = []
for name, series, width in zip(VOL_NAMES, [VOL_7D, VOL_14D, VOL_30D, VOL_60D], VOL_WIDTHS):
    frame = pd.DataFrame(series, columns=["date", "value"])
    frame["series"] = name
    vol_layers.append(
        alt.Chart(frame).mark_line(strokeWidth=width, strokeJoin="round").encode(
            x=alt.X("date:T", scale=x_scale, axis=date_axis()),
            y=alt.Y("value:Q", scale=vol_y,
                    axis=value_axis([5, 10, 15, 20, 25, 30, 35], "波动率 (%)", 21, -62)),
            color=alt.Color("series:N", scale=alt.Scale(domain=VOL_NAMES, range=VOL_COLORS),
                            legend=vol_legend),
        )
    )
vol_panel = alt.layer(*vol_layers).properties(
    width=PANEL_W, height=426,
    title=alt.Title("000001.SH - 历史波动率分析 (365天)", fontSize=27.5, offset=8, frame="group"),
)


# ---------------------------------------------------------------------------
# Panels 2 and 3: tables drawn as cell grids
# ---------------------------------------------------------------------------
def table_panel(columns, rows, fills, font_size, height, title, title_offset):
    cells = [{"row": 0, "col": c, "text": name, "fill": HEADER_FILL, "ink": "white"}
             for c, name in enumerate(columns)]
    for r, (values, fill) in enumerate(zip(rows, fills), start=1):
        for c, value in enumerate(values):
            cells.append({"row": r, "col": c, "text": str(value), "fill": fill, "ink": "black"})
    frame = pd.DataFrame(cells)
    x = alt.X("col:O", scale=alt.Scale(domain=list(range(len(columns))), paddingInner=0,
                                       paddingOuter=0), axis=None)
    y = alt.Y("row:O", scale=alt.Scale(domain=list(range(len(rows) + 1)), paddingInner=0,
                                       paddingOuter=0), axis=None)
    base = alt.Chart(frame)
    boxes = base.mark_rect(stroke="black", strokeWidth=1.7).encode(
        x=x, y=y, fill=alt.Fill("fill:N", scale=None))
    labels = base.mark_text(font=FONT, fontSize=font_size).encode(
        x=x, y=y, text="text:N", color=alt.Color("ink:N", scale=None))
    return alt.layer(boxes, labels).properties(
        width=PANEL_W, height=height,
        title=alt.Title(title, fontSize=24, offset=title_offset, frame="group"))


recent_rows = list(zip(RECENT_DATES, RECENT_VOL7, RECENT_VOL14, RECENT_VOL30, RECENT_RATIO))
recent_fills = ["white" if i % 2 == 0 else "#F0F0F0" for i in range(len(recent_rows))]
recent_panel = table_panel(RECENT_COLUMNS, recent_rows, recent_fills, 17, 212.3,
                           "近期历史波动率数据", 35)

rank_rows = list(zip(RANK_NAMES, RANK_DATES, RANK_VALUES, RANK_POSITIONS))
rank_fills = ["#C8E6C9" if pos <= 10 else ("#F2F2F2" if i % 2 else "white")
              for i, pos in enumerate(RANK_POSITIONS)]
rank_panel = table_panel(RANK_COLUMNS, rank_rows, rank_fills, 15.5, 212.5,
                         "历史波动率相关指标历史排名", 36)

# ---------------------------------------------------------------------------
# Panel 4: RSI
# ---------------------------------------------------------------------------
rsi_axis_y = value_axis([0, 20, 40, 60, 80, 100], "RSI", 16.5, -69)
rsi_y = alt.Scale(domain=[0, 100], nice=False)
rsi_legend = line_legend(8, 19.5)
rsi_color = alt.Color("series:N", scale=alt.Scale(domain=RSI_NAMES, range=RSI_COLORS),
                      legend=rsi_legend)
rsi_dash = alt.StrokeDash("series:N", scale=alt.Scale(domain=RSI_NAMES,
                                                      range=[[1, 0], [11, 5], [11, 5]]),
                          legend=rsi_legend)

zones = pd.DataFrame({
    "start": [RSI_14[0][0]] * 2, "end": [RSI_14[-1][0]] * 2,
    "lo": [70, 0], "hi": [100, 30], "tint": ["#A23B72", "#1E8C4E"],
})
zone_layer = alt.Chart(zones).mark_rect(opacity=0.1).encode(
    x=alt.X("start:T", scale=x_scale, axis=date_axis("日期")), x2="end:T",
    y=alt.Y("lo:Q", scale=rsi_y, axis=rsi_axis_y), y2="hi:Q",
    fill=alt.Fill("tint:N", scale=None),
)
mid_layer = alt.Chart(pd.DataFrame({"level": [50]})).mark_rule(
    color="#BDBDBD", strokeWidth=2.7).encode(
    y=alt.Y("level:Q", scale=rsi_y, axis=rsi_axis_y))

rsi_frame = pd.DataFrame(RSI_14, columns=["date", "value"])
rsi_frame["series"] = RSI_NAMES[0]
rsi_line = alt.Chart(rsi_frame).mark_line(strokeWidth=2.6, strokeJoin="round").encode(
    x=alt.X("date:T", scale=x_scale, axis=date_axis("日期")),
    y=alt.Y("value:Q", scale=rsi_y, axis=rsi_axis_y),
    color=rsi_color, strokeDash=rsi_dash,
)
thresholds = pd.DataFrame({"level": [70, 30], "series": RSI_NAMES[1:]})
threshold_layer = alt.Chart(thresholds).mark_rule(strokeWidth=3).encode(
    y=alt.Y("level:Q", scale=rsi_y, axis=rsi_axis_y),
    color=rsi_color, strokeDash=rsi_dash,
)
rsi_panel = alt.layer(zone_layer, mid_layer, rsi_line, threshold_layer).properties(
    width=PANEL_W, height=213,
    title=alt.Title("RSI(14) 市场情绪指标", fontSize=24, offset=28, frame="group"),
)

chart = alt.vconcat(
    vol_panel, recent_panel, rank_panel, rsi_panel, spacing=107, bounds="flush",
).resolve_scale(
    color="independent", strokeDash="independent", x="independent", y="independent",
).resolve_legend(
    color="independent", strokeDash="independent",
).properties(
    padding={"left": 15, "top": 17, "right": 14, "bottom": 10},
    background="white",
).configure_view(stroke=None).configure_axis(
    labelFont=FONT, titleFont=FONT,
).configure_legend(labelFont=FONT).configure_title(
    font=FONT, fontWeight="normal", color="#111", anchor="middle",
).configure_text(font=FONT)

chart.save("out.html", embed_options={"renderer": "svg", "actions": False})
